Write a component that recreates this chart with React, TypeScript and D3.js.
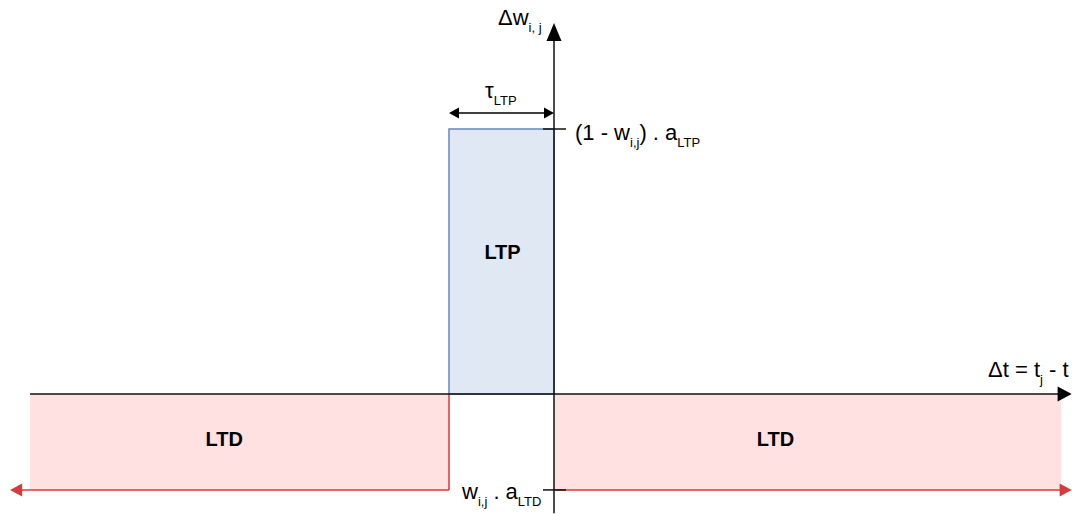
import React from 'react';
import { scaleLinear } from 'd3';

// regions of the STDP window (Δt in units of τ_LTP, Δw in units of a_LTP)
const regionLabels = ['LTD', 'LTP', 'LTD'];
const regionStart = [-4.99, -1, 0];
const regionEnd = [-1, 0, 4.83];
const regionValue = [-0.362, 1, -0.362];
// where each region's label sits (data units)
const labelDt = [-3.14, -0.49, 2.11];
const labelDw = [-0.196, 0.509, -0.196];

// axis extents
const xAxisExtent = [-4.99, 4.93];
const yAxisExtent = [-0.45, 1.4];
const ltdArrowExtent = [-5.18, 4.93];

const W = 1072;
const H = 514;
const FONT = '"Liberation Sans", Arial, sans-serif';

const x = scaleLinear().domain([-1, 0]).range([449, 554]);
const y = scaleLinear().domain([0, 1]).range([394, 129]);

function arrowHead(tx: number, ty: number, dir: 'left' | 'right' | 'up', len: number, half: number) {
  if (dir === 'left') return `M${tx},${ty}L${tx + len},${ty - half}L${tx + len},${ty + half}Z`;
  if (dir === 'right') return `M${tx},${ty}L${tx - len},${ty - half}L${tx - len},${ty + half}Z`;
  return `M${tx},${ty}L${tx - half},${ty + len}L${tx + half},${ty + len}Z`;
}

function Sub({ children }: { children: React.ReactNode }) {
  return <tspan fontSize={13} dy={7}>{children}</tspan>;
}

export default function App() {
  const x0 = x(0);
  const y0 = y(0);
  const ltdY = y(regionValue[0]);
  const ltpY = y(regionValue[1]);
  const red = '#d63a3a';

  return (
    <svg width={W} height={H} style={{ position: 'absolute', left: 0, top: 0, background: '#fff' }} fontFamily={FONT}>
      {/* filled regions */}
      {regionLabels.map((lab, i) => {
        const xa = x(regionStart[i]);
        const xb = x(regionEnd[i]);
        const ya = y(Math.max(0, regionValue[i]));
        const yb = y(Math.min(0, regionValue[i]));
        const isLtp = lab === 'LTP';
        return (
          <g key={i}>
            <rect x={xa} y={ya} width={xb - xa} height={yb - ya}
              fill={isLtp ? '#e0e8f3' : '#ffe1e2'}
              stroke={isLtp ? '#6787bd' : 'none'} strokeWidth={1.5} />
            <text x={x(labelDt[i])} y={y(labelDw[i])} textAnchor="middle"
              fontWeight="bold" fontSize={20} fill="#000">{lab}</text>
          </g>
        );
      })}

      {/* red LTD edges */}
      <line x1={x(-1)} x2={x(-1)} y1={y0} y2={ltdY} stroke={red} strokeWidth={1.5} />
      <line x1={x(ltdArrowExtent[0]) + 8} x2={x(-1)} y1={ltdY} y2={ltdY} stroke={red} strokeWidth={1.5} />
      <path d={arrowHead(x(ltdArrowExtent[0]), ltdY, 'left', 12, 6.5)} fill={red} />
      <line x1={x0} x2={x(ltdArrowExtent[1]) - 8} y1={ltdY} y2={ltdY} stroke={red} strokeWidth={1.5} />
      <path d={arrowHead(x(ltdArrowExtent[1]), ltdY, 'right', 12, 6.5)} fill={red} />

      {/* axes */}
      <line x1={x(xAxisExtent[0])} x2={x(xAxisExtent[1]) - 10} y1={y0} y2={y0} stroke="#111" strokeWidth={1.5} />
      <path d={arrowHead(x(xAxisExtent[1]), y0, 'right', 14, 7.5)} fill="#000" />
      <line x1={x0} x2={x0} y1={y(yAxisExtent[0])} y2={y(yAxisExtent[1]) + 10} stroke="#111" strokeWidth={1.5} />
      <path d={arrowHead(x0, y(yAxisExtent[1]), 'up', 18, 7.5)} fill="#000" />

      {/* ticks */}
      <line x1={x0 - 11} x2={x0 + 12} y1={ltpY} y2={ltpY} stroke="#111" strokeWidth={1.5} />
      <line x1={x0 - 11} x2={x0 + 12} y1={ltdY} y2={ltdY} stroke="#111" strokeWidth={1.5} />

      {/* τ_LTP double arrow */}
      <line x1={x(-1) + 8} x2={x0 - 8} y1={ltpY - 16} y2={ltpY - 16} stroke="#000" strokeWidth={1.3} />
      <path d={arrowHead(x(-1), ltpY - 16, 'left', 10, 5.5)} fill="#000" />
      <path d={arrowHead(x0, ltpY - 16, 'right', 10, 5.5)} fill="#000" />

      {/* labels */}
      <text x={485} y={98} fontSize={22} fill="#000">τ<Sub>LTP</Sub></text>
      <text x={498} y={25} fontSize={22} fill="#000">Δw<Sub>i, j</Sub></text>
      <text x={575} y={140} fontSize={22} fill="#000">(1 - w<Sub>i,j</Sub><tspan dy={-7}>) . a</tspan><Sub>LTP</Sub></text>
      <text x={462} y={499} fontSize={22} fill="#000">w<Sub>i,j</Sub><tspan dy={-7}> . a</tspan><Sub>LTD</Sub></text>
      <text x={988} y={377} fontSize={22} fill="#000">Δt = t<Sub>j</Sub><tspan dy={-7}> - t</tspan></text>
    </svg>
  );
}
